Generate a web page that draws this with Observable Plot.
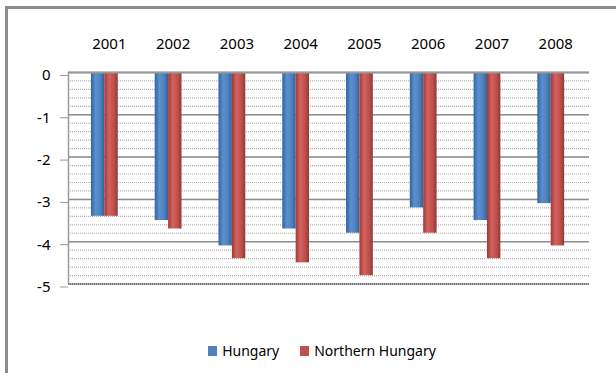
<!DOCTYPE html>
<html>
<head>
<meta charset="utf-8">
<script src="https://cdn.jsdelivr.net/npm/d3@7"></script>
<script src="https://cdn.jsdelivr.net/npm/@observablehq/plot@0.6"></script>
<style>
  body { margin: 0; background: #fff; font-family: "Noto Sans", sans-serif; }
  #wrap { position: relative; width: 616px; height: 373px; overflow: hidden; }
  #wrap svg { position: absolute; left: 0; top: 0; }
  #border { position: absolute; left: 5px; top: 6px; width: 640px; height: 400px;
            border-left: 3px solid #8c8c8c; border-top: 3px solid #8c8c8c; }
  #legend { position: absolute; top: 341px; left: 14px; width: 616px; display: flex;
            justify-content: center; gap: 21px; font-size: 14px; line-height: 20px; color: #000; }
  #legend span.item { display: inline-flex; align-items: center; }
  #legend span.sw { display: inline-block; width: 9px; height: 10px; margin-right: 5px; }
</style>
</head>
<body>
<div id="wrap"><div id="border"></div></div>
<script>
// Yearly values for the two regions
const years = [2001, 2002, 2003, 2004, 2005, 2006, 2007, 2008];
const hungary = [-3.4, -3.5, -4.1, -3.7, -3.8, -3.2, -3.5, -3.1];
const northernHungary = [-3.4, -3.7, -4.4, -4.5, -4.8, -3.8, -4.4, -4.1];
const seriesNames = ["Hungary", "Northern Hungary"];
const seriesColors = ["#4F81BD", "#C0504D"];
const yTicks = [0, -1, -2, -3, -4, -5];
const yMinorTicks = d3.range(0, 26).map(i => -i / 5);

// half of a year's slot taken by each bar, in year units
const barHalfWidth = 0.21;

const rows = years.flatMap((year, i) => [
  {year, series: seriesNames[0], value: hungary[i], x1: year - barHalfWidth, x2: year},
  {year, series: seriesNames[1], value: northernHungary[i], x1: year, x2: year + barHalfWidth}
]);

const xDomain = [2000.43, 2008.6];

const chart = Plot.plot({
  width: 616,
  height: 373,
  marginLeft: 68,
  marginRight: 27,
  marginTop: 72,
  marginBottom: 89.5,
  x: {type: "linear", domain: xDomain, axis: null},
  y: {domain: [-5, 0], axis: null},
  style: {fontFamily: "Noto Sans, sans-serif", background: "transparent", color: "#000", overflow: "visible"},
  marks: [
    // back-wall minor gridlines
    Plot.gridY(yMinorTicks, {stroke: "#9a9a9a", strokeOpacity: 0.8, strokeDasharray: "1,1", strokeWidth: 1.2}),
    // major gridlines
    Plot.gridY(yTicks, {stroke: "#8f8f8f", strokeOpacity: 1, strokeWidth: 1.5}),
    Plot.ruleY([-5], {stroke: "#777", strokeWidth: 2, strokeDasharray: "1,1"}),
    // bars hang from zero
    Plot.rectY(rows.filter(d => d.series === seriesNames[0]),
      {x1: "x1", x2: "x2", y1: 0, y2: "value", fill: "url(#grad-hungary)"}),
    Plot.rectY(rows.filter(d => d.series === seriesNames[1]),
      {x1: "x1", x2: "x2", y1: 0, y2: "value", fill: "url(#grad-northern)"}),
    Plot.ruleY([0], {stroke: "#999", strokeWidth: 2}),
    // vertical axis line
    Plot.ruleX([xDomain[0]], {y1: 0, y2: -5, stroke: "#9a9a9a", strokeWidth: 1.5}),
    Plot.axisX(years, {anchor: "top", tickSize: 0, tickPadding: 24, dx: 4.5, label: null,
      tickFormat: d => String(d), fontSize: 15}),
    Plot.axisY(yTicks, {anchor: "left", tickSize: 8, tickPadding: 10, dy: 3, label: null,
      stroke: "#9a9a9a", tickFormat: d => String(d), fontSize: 15})
  ]
});

// cylinder shading for the bars
const defs = d3.select(chart).insert("defs", ":first-child");
function shade(id, stops) {
  const g = defs.append("linearGradient").attr("id", id)
    .attr("x1", "0").attr("x2", "1").attr("y1", "0").attr("y2", "0");
  stops.forEach(([o, c]) => g.append("stop").attr("offset", o).attr("stop-color", c));
}
shade("grad-hungary", [[0, "#33649f"], [0.35, "#5b8fd0"], [0.7, "#4f81bd"], [1, "#375f92"]]);
shade("grad-northern", [[0, "#9c3b38"], [0.35, "#d4625f"], [0.7, "#c0504d"], [1, "#8f3a37"]]);

const wrap = document.getElementById("wrap");
wrap.appendChild(chart);

// legend below the plot
const legend = d3.select(wrap).append("div").attr("id", "legend");
seriesNames.forEach((name, i) => {
  const item = legend.append("span").attr("class", "item");
  item.append("span").attr("class", "sw").style("background", seriesColors[i]);
  item.append("span").text(name);
});
</script>
</body>
</html>
